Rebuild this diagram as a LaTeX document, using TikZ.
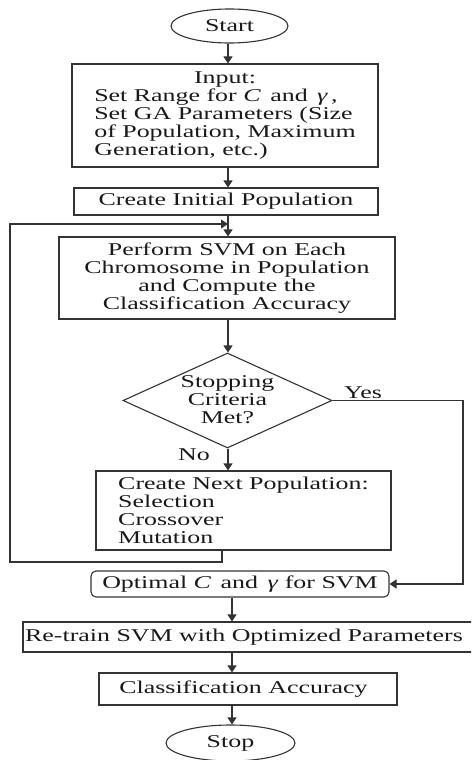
\documentclass[tikz,border=0pt]{standalone}
\usepackage{fontspec}
\setmainfont{Liberation Serif}[FakeStretch=1.44]
\usetikzlibrary{shapes.geometric,arrows.meta}
\begin{document}
\begin{tikzpicture}[x=1pt,y=-1pt,
  every node/.style={font=\fontsize{18}{18}\selectfont, text=black!90},
  box/.style={draw=black!80, line width=1.1pt, rectangle, inner sep=0pt},
  arr/.style={draw=black!80, line width=1.1pt, -{Triangle[width=9pt,length=7pt]}},
  ln/.style={draw=black!80, line width=1.1pt}]
\useasboundingbox (0,0) rectangle (471,760);
\clip (0,0) rectangle (471,760);

\node[box, ellipse, minimum width=117pt, minimum height=34pt] (start) at (229.5,26) {Start};
\node[box, minimum width=306pt, minimum height=103pt] (input) at (225,115.5)
  {\begin{tabular}{@{}l@{}}\multicolumn{1}{@{}c@{}}{Input:}\\
   Set Range for \textit{C}\, and \,\textit{γ}\,,\\
   Set GA Parameters (Size\\
   of Population, Maximum\\
   Generation, etc.)\end{tabular}};
\node[box, minimum width=304pt, minimum height=27pt] (init) at (226,201.5) {Create Initial Population};
\node[box, minimum width=336pt, minimum height=82pt, align=center] (svm) at (227,278)
  {Perform SVM on Each\\Chromosome in Population\\and Compute the\\Classification Accuracy};
\node[box, diamond, minimum width=209pt, minimum height=95pt] (dec) at (227.5,400.5) {};
\node[align=center, inner sep=0pt] (dect) at (227.5,400) {Stopping\\Criteria\\Met?};
\node[box, minimum width=295pt, minimum height=79pt, align=left] (next) at (243.5,510.5)
  {Create Next Population:\\Selection\\Crossover\\Mutation};
\node[box, rounded corners=5pt, minimum width=298pt, minimum height=26pt] (opt) at (240,584)
  {Optimal \textit{C}\, and \,\textit{γ} for SVM};
\node[box, minimum width=457pt, minimum height=30pt] (retrain) at (251.5,637)
  {\hspace*{-15pt}Re-train SVM with Optimized Parameters};
\node[box, minimum width=298pt, minimum height=32pt] (acc) at (248,689)
  {\hspace*{-9pt}Classification Accuracy};
\node[box, ellipse, minimum width=129pt, minimum height=36pt] (stop) at (230.5,743) {Stop};

\node[anchor=base, inner sep=0pt] (yes) at (363,398) {Yes};
\node[anchor=base, inner sep=0pt] (no) at (194,460) {No};

\coordinate (ax) at (228,0);
\coordinate (bx) at (232,0);
\coordinate (lx) at (222,0);
\coordinate (yesR) at (463,0);
\coordinate (loopL) at (10,562);
\coordinate (loopT) at (10,224);
\coordinate (join) at (228,224);

\draw[arr] (start.south -| ax) -- (input.north -| ax);
\draw[arr] (input.south -| ax) -- (init.north -| ax);
\draw[arr] (init.south -| ax) -- (svm.north -| ax);
\draw[arr] (svm.south -| ax) -- (dec.north -| ax);
\draw[arr] (dec.south -| ax) -- (next.north -| ax);
\draw[arr] (next.south -| lx) |- (loopL) -- (loopT) -- (join);
\draw[arr] (dec.east) -- (dec.east -| yesR) |- (opt.east);
\draw[arr] (opt.south -| bx) -- (retrain.north -| bx);
\draw[arr] (retrain.south -| bx) -- (acc.north -| bx);
\draw[arr] (acc.south -| bx) -- (stop.north -| bx);
\end{tikzpicture}
\end{document}
